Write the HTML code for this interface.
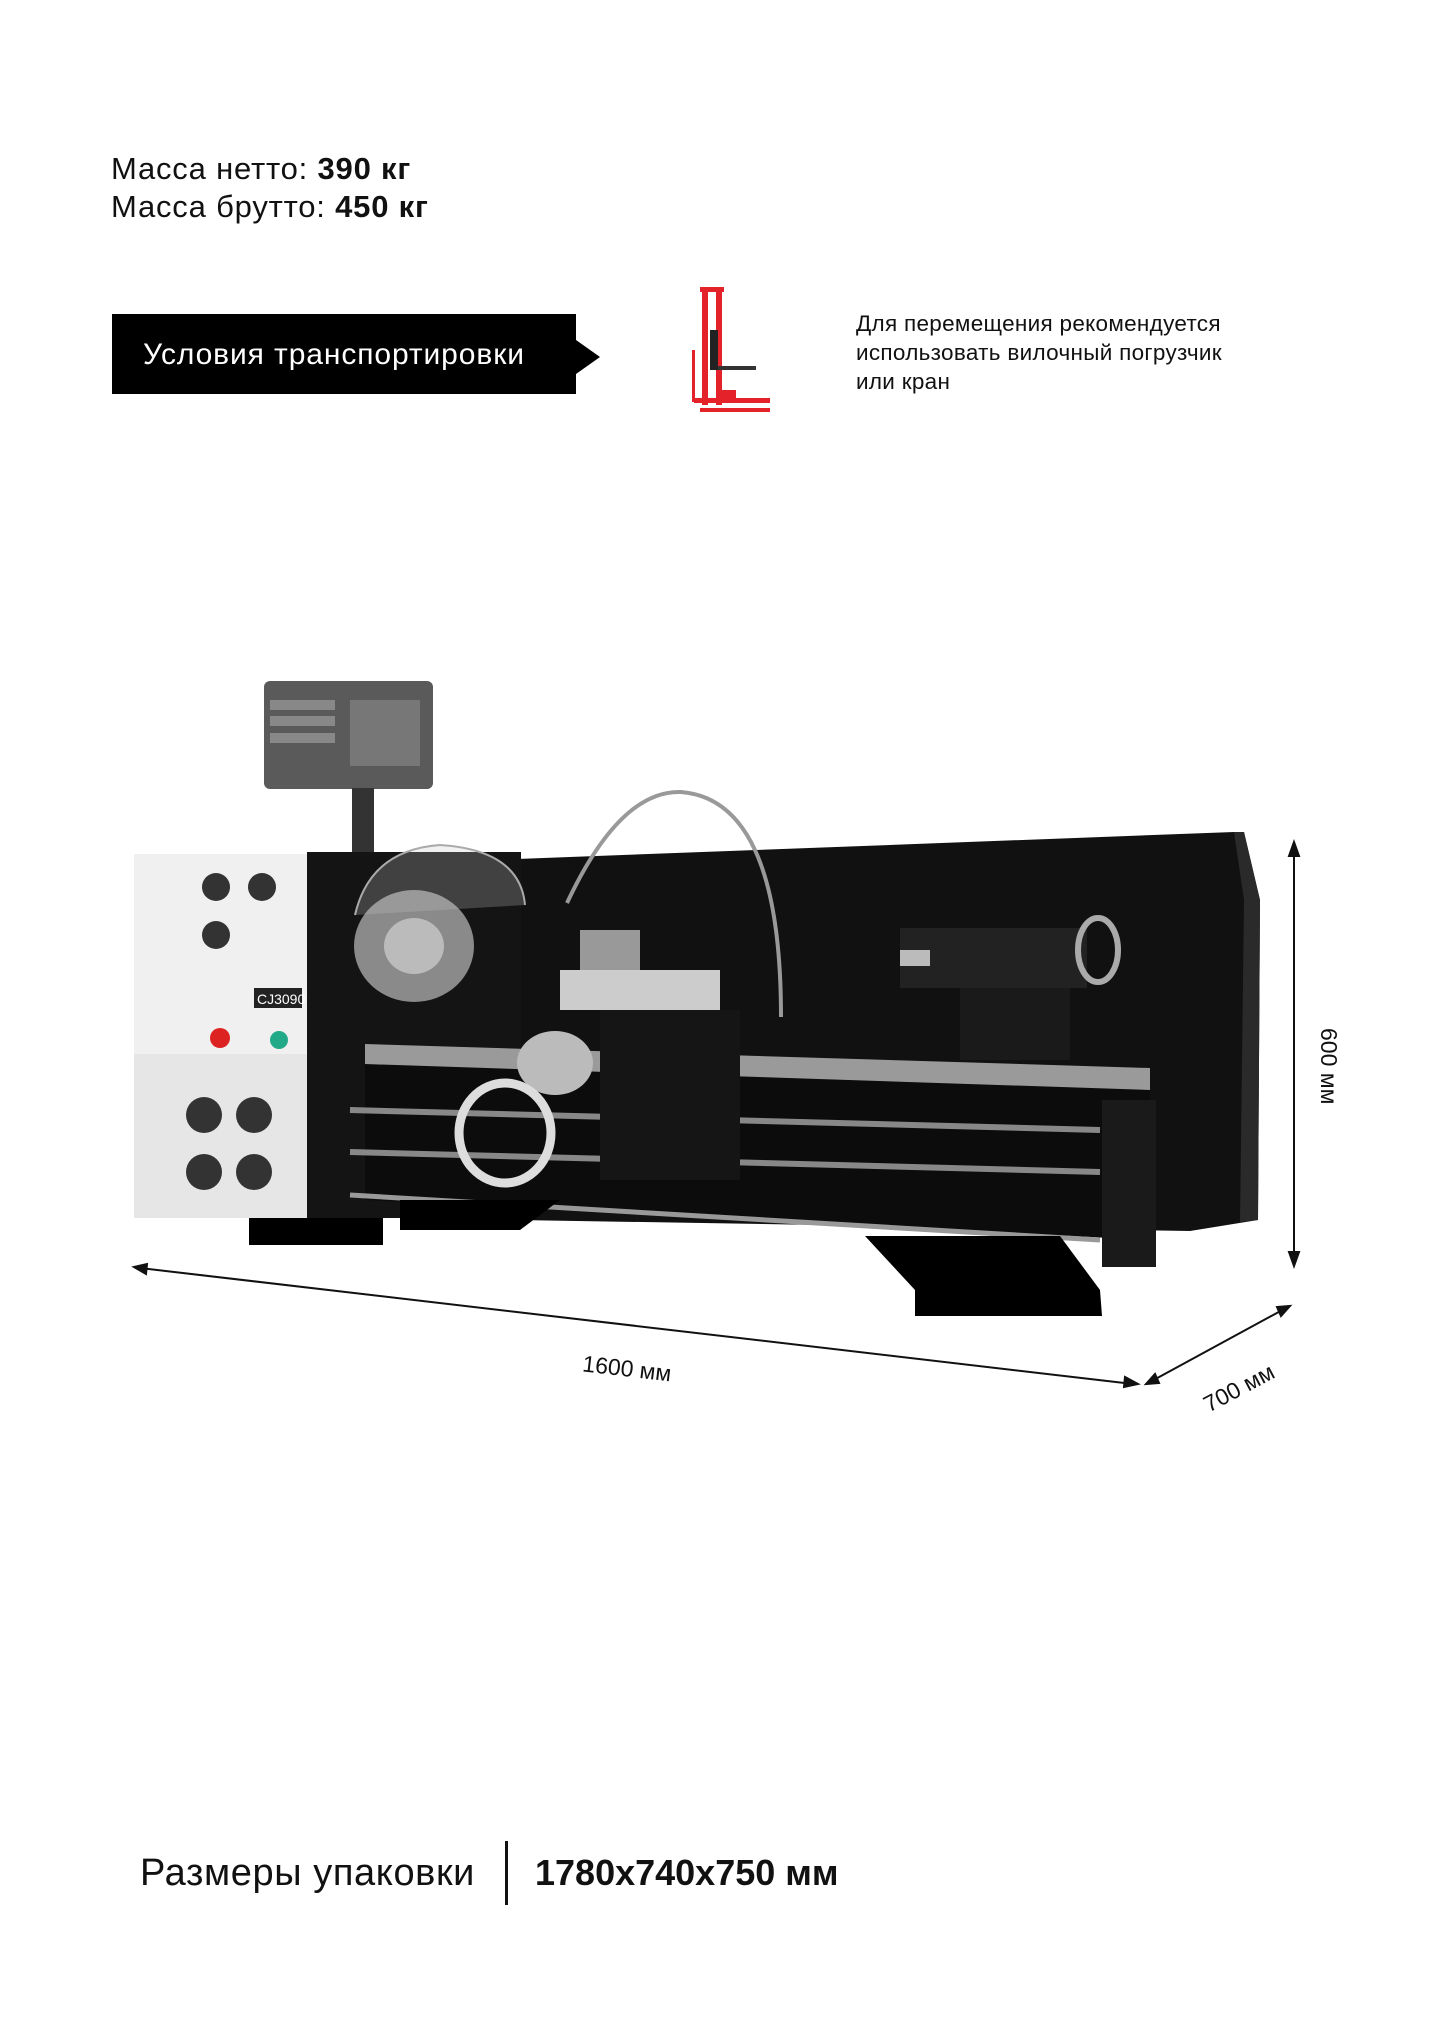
<!DOCTYPE html>
<html><head><meta charset="utf-8"><style>
html,body{margin:0;padding:0;background:#fff;}
body{width:1440px;height:2037px;position:relative;overflow:hidden;font-family:"Liberation Sans",sans-serif;color:#111;}
.t{position:absolute;white-space:nowrap;}
</style></head><body>
<div class="t" style="left:111px;top:150px;font-size:31px;line-height:38px;letter-spacing:0.8px;">Масса нетто: <b>390 кг</b><br>Масса брутто: <b>450 кг</b></div>
<svg style="position:absolute;left:0;top:0" width="1440" height="2037">
<polygon points="112,314 576,314 576,340 600,357 576,374 576,394 112,394" fill="#000"/>
<text x="143" y="364" font-size="30" letter-spacing="0.9" fill="#fff" font-family="Liberation Sans">Условия транспортировки</text>
<g fill="#e3222a">
<rect x="702" y="287" width="6" height="118"/><rect x="716" y="287" width="6" height="118"/>
<rect x="700" y="287" width="24" height="5"/>
<rect x="692" y="350" width="3" height="52"/>
<rect x="694" y="398" width="76" height="5"/><rect x="700" y="408" width="70" height="4"/>
<rect x="722" y="390" width="14" height="10"/>
</g>
<rect x="710" y="330" width="8" height="40" fill="#222"/>
<rect x="718" y="366" width="38" height="4" fill="#333"/>
<text font-family="Liberation Sans" font-size="22.5" letter-spacing="0.3" fill="#111"><tspan x="856" y="331">Для перемещения рекомендуется</tspan><tspan x="856" y="360">использовать вилочный погрузчик</tspan><tspan x="856" y="389">или кран</tspan></text>

<polygon points="517,859 1234,832 1244,832 1260,900 1258,1220 1190,1231 517,1220" fill="#111"/>
<polygon points="1234,832 1244,832 1260,900 1258,1220 1240,1222 1244,900" fill="#2a2a2a"/>
<rect x="307" y="852" width="214" height="366" fill="#141414"/>
<rect x="134" y="854" width="173" height="364" fill="#f0f0f0"/>
<rect x="134" y="1054" width="173" height="164" fill="#e6e6e6"/>
<rect x="264" y="681" width="169" height="108" rx="6" fill="#5a5a5a"/>
<rect x="270" y="700" width="65" height="10" fill="#888"/><rect x="270" y="716" width="65" height="10" fill="#888"/><rect x="270" y="733" width="65" height="10" fill="#888"/>
<rect x="350" y="700" width="70" height="66" fill="#777"/>
<rect x="352" y="788" width="22" height="64" fill="#333"/>
<polygon points="365,1044 1150,1068 1150,1240 365,1200" fill="#0c0c0c"/>
<polygon points="365,1044 1150,1068 1150,1090 365,1064" fill="#9a9a9a"/>
<line x1="350" y1="1110" x2="1100" y2="1130" stroke="#888" stroke-width="6"/>
<line x1="350" y1="1152" x2="1100" y2="1172" stroke="#888" stroke-width="6"/>
<line x1="350" y1="1195" x2="1100" y2="1240" stroke="#999" stroke-width="5"/>
<polygon points="249,1218 383,1218 383,1245 249,1245" fill="#000"/>
<polygon points="400,1200 560,1200 520,1230 400,1230" fill="#000"/>
<polygon points="865,1236 1060,1236 1100,1290 1102,1316 915,1316 915,1290" fill="#000"/>
<rect x="1102" y="1100" width="54" height="167" fill="#1a1a1a"/>
<ellipse cx="414" cy="946" rx="60" ry="56" fill="#8a8a8a"/>
<ellipse cx="414" cy="946" rx="30" ry="28" fill="#bbb"/>
<path d="M355,915 Q370,850 440,845 Q520,850 525,905" fill="rgba(200,200,200,0.25)" stroke="#aaa" stroke-width="2"/>
<rect x="560" y="970" width="160" height="40" fill="#ccc"/>
<rect x="580" y="930" width="60" height="40" fill="#999"/>
<rect x="600" y="1010" width="140" height="170" fill="#151515"/>
<ellipse cx="555" cy="1063" rx="38" ry="32" fill="#bbb"/>
<ellipse cx="505" cy="1133" rx="46" ry="50" fill="none" stroke="#ddd" stroke-width="9"/>
<path d="M567,903 Q620,790 681,792 Q781,800 781,1017" fill="none" stroke="#999" stroke-width="4"/>
<rect x="900" y="928" width="187" height="60" fill="#222"/>
<rect x="960" y="988" width="110" height="72" fill="#1a1a1a"/>
<rect x="900" y="950" width="30" height="16" fill="#bbb"/>
<ellipse cx="1098" cy="950" rx="20" ry="32" fill="none" stroke="#aaa" stroke-width="6"/>
<g fill="#333"><circle cx="216" cy="887" r="14"/><circle cx="262" cy="887" r="14"/><circle cx="216" cy="935" r="14"/>
<circle cx="204" cy="1115" r="18"/><circle cx="254" cy="1115" r="18"/><circle cx="204" cy="1172" r="18"/><circle cx="254" cy="1172" r="18"/></g>
<circle cx="220" cy="1038" r="10" fill="#d22"/><circle cx="279" cy="1040" r="9" fill="#2a8"/>
<rect x="254" y="988" width="48" height="20" fill="#222"/>
<text x="257" y="1004" font-size="14" fill="#fff" font-family="Liberation Sans">CJ3090</text>

<g stroke="#111" stroke-width="2" fill="#111">
<line x1="1294" y1="848" x2="1294" y2="1260"/>
<polygon points="1294,842 1289,856 1299,856"/><polygon points="1294,1266 1289,1252 1299,1252"/>
<line x1="140" y1="1268" x2="1133" y2="1384"/>
<polygon points="134,1267 147,1264 146,1274"/><polygon points="1138,1384 1125,1377 1124,1387"/>
<line x1="1150" y1="1382" x2="1286" y2="1308"/>
<polygon points="1146,1384 1155,1374 1159,1383"/><polygon points="1290,1306 1281,1316 1277,1307"/>
</g>
<text x="582" y="1377" font-size="23" fill="#111" font-family="Liberation Sans" transform="rotate(6.6 632 1372)">1600 мм</text>
<text x="1290" y="1075" font-size="23" fill="#111" font-family="Liberation Sans" transform="rotate(90 1329 1067)">600 мм</text>
<text x="1200" y="1393" font-size="23" fill="#111" font-family="Liberation Sans" transform="rotate(-28 1244 1385)">700 мм</text>

<text x="140" y="1885" font-size="38" letter-spacing="0.6" fill="#111" font-family="Liberation Sans">Размеры упаковки</text>
<rect x="505" y="1841" width="3" height="64" fill="#111"/>
<text x="535" y="1885" font-size="36" font-weight="bold" fill="#111" font-family="Liberation Sans">1780x740x750 мм</text>
</svg>
</body></html>
